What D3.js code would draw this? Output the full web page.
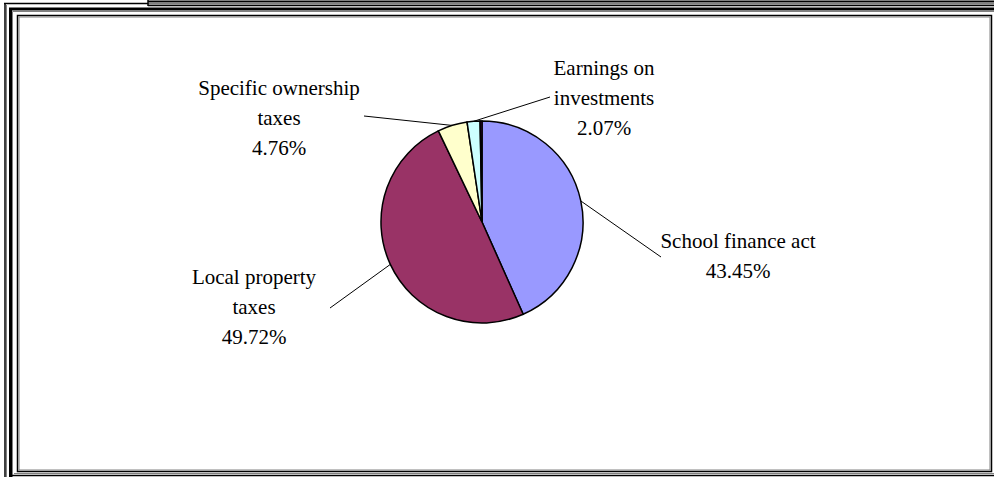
<!DOCTYPE html>
<html>
<head>
<meta charset="UTF-8">
<title>Revenue sources</title>
<style>
  body { margin: 0; background: #ffffff; }
  svg { display: block; }
  text { font-family: "Liberation Serif", "Times New Roman", serif; font-size: 21px; fill: #000; }
</style>
</head>
<body>
<svg></svg>
<script src="https://d3js.org/d3.v7.min.js"></script>
<script>

// data
let categories = ["School finance act", "Local property taxes", "Specific ownership taxes", "Earnings on investments", "Other"];
let values = [43.45, 49.72, 4.76, 2.07, 0.30];
let colors = ["#9999FF", "#993366", "#FFFFCC", "#CCFFFF", "#660066"];
// label text, one line per entry
let labelLines = [
  ["School finance act", "43.45%"],
  ["Local property", "taxes", "49.72%"],
  ["Specific ownership", "taxes", "4.76%"],
  ["Earnings on", "investments", "2.07%"],
  []
];

let width = 994, height = 477;
let cx = 482, cy = 222, r = 101;

// layout: where each label block sits (center x, first baseline y), and where its leader ends
let labelAt = [
  {x: 738, y: 248, lx: 661, ly: 257},
  {x: 254, y: 284, lx: 330, ly: 308},
  {x: 279, y: 95, lx: 364, ly: 116},
  {x: 604, y: 75, lx: 550, ly: 97},
  null
];

let svg = d3.select("svg")
    .attr("width", width)
    .attr("height", height);

// frame lines
let frame = svg.append("g").attr("fill", "none");
function seg(x1, y1, x2, y2, c, w) {
  frame.append("line").attr("x1", x1).attr("y1", y1).attr("x2", x2).attr("y2", y2)
    .attr("stroke", c).attr("stroke-width", w);
}
seg(148, 1.5, 994, 1.5, "#000", 2);
seg(148, 3.5, 994, 3.5, "#808080", 2);
seg(148, 0, 148, 6, "#000", 1.5);
seg(4, 3.5, 148, 3.5, "#000", 1.5);
seg(148, 5.5, 994, 5.5, "#000", 1.5);
seg(5, 3, 5, 477, "#000", 1.5);
seg(6.5, 5, 6.5, 477, "#808080", 1);
seg(10.5, 8, 10.5, 477, "#000", 3);
seg(9, 9, 994, 9, "#000", 3);
seg(12.5, 11.5, 994, 11.5, "#808080", 1);
seg(12.5, 11.5, 12.5, 477, "#808080", 1);
seg(12, 475.5, 994, 475.5, "#000", 1.5);
seg(14, 473.5, 994, 473.5, "#808080", 1);
frame.append("rect").attr("x", 17.5).attr("y", 15.5).attr("width", 974).attr("height", 456)
  .attr("stroke", "#000").attr("stroke-width", 1.5);
frame.append("rect").attr("x", 19).attr("y", 17).attr("width", 971).attr("height", 453)
  .attr("stroke", "#808080").attr("stroke-width", 1);

let pie = d3.pie().sort(null).value(d => d)(values);
let arc = d3.arc().innerRadius(0).outerRadius(r);

let g = svg.append("g").attr("transform", "translate(" + cx + "," + cy + ")");

g.selectAll("path")
  .data(pie)
  .enter()
  .append("path")
    .attr("d", arc)
    .attr("fill", (d, i) => colors[i])
    .attr("stroke", "#000")
    .attr("stroke-width", 1.5);

// leaders and labels
pie.forEach((d, i) => {
  let pos = labelAt[i];
  if (!pos) return;
  let a = (d.startAngle + d.endAngle) / 2;
  svg.append("line")
    .attr("x1", cx + Math.sin(a) * r)
    .attr("y1", cy - Math.cos(a) * r)
    .attr("x2", pos.lx)
    .attr("y2", pos.ly)
    .attr("stroke", "#000")
    .attr("stroke-width", 1);
  let t = svg.append("text")
    .attr("text-anchor", "middle");
  labelLines[i].forEach((s, k) => {
    t.append("tspan").attr("x", pos.x).attr("y", pos.y + k * 30).text(s);
  });
});

</script>
</body>
</html>
